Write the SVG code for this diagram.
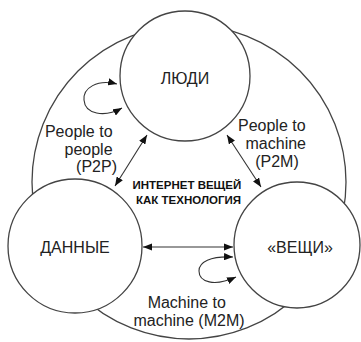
<svg xmlns="http://www.w3.org/2000/svg" width="361" height="342" viewBox="0 0 361 342">
  <style>
    .ring { fill: none; stroke: #444; stroke-width: 1.3; }
    .node { fill: #fff; stroke: #444; stroke-width: 1.3; }
    .title { font-family: "Liberation Sans", Arial, sans-serif; font-size: 16px; fill: #222; text-anchor: middle; }
    .label { font-family: "Liberation Sans", Arial, sans-serif; font-size: 16px; fill: #222; }
    .center { font-family: "Liberation Sans", Arial, sans-serif; font-size: 11.5px; font-weight: bold; fill: #111; text-anchor: middle; }
    .link { fill: none; stroke: #333; stroke-width: 1.1; }
  </style>
  <defs>
    <marker id="head" viewBox="0 0 10 8" refX="10" refY="4" markerWidth="9" markerHeight="7.2" markerUnits="userSpaceOnUse" orient="auto-start-reverse">
      <path d="M0,0 L10,4 L0,8 Z" fill="#111"/>
    </marker>
  </defs>

  <rect width="361" height="342" fill="#fff"/>

  <!-- enclosing ring behind the nodes -->
  <circle class="ring" cx="189" cy="182" r="157"/>

  <g id="people">
    <circle class="node" cx="185" cy="76" r="65"/>
    <text class="title" x="185" y="84">ЛЮДИ</text>
  </g>

  <g id="data">
    <circle class="node" cx="75" cy="246" r="67"/>
    <text class="title" x="75" y="253">ДАННЫЕ</text>
  </g>

  <g id="things">
    <circle class="node" cx="297" cy="245" r="63"/>
    <text class="title" x="300" y="253">«ВЕЩИ»</text>
  </g>

  <g id="connectors">
    <!-- people to people loop -->
    <path class="link" d="M117,84 C97,79 83,88 84,100 C85,114 104,118 122,108" marker-start="url(#head)" marker-end="url(#head)"/>
    <!-- people to data -->
    <line class="link" x1="147" y1="135" x2="115" y2="186" marker-start="url(#head)" marker-end="url(#head)"/>
    <!-- people to things -->
    <line class="link" x1="227" y1="135" x2="261" y2="187" marker-start="url(#head)" marker-end="url(#head)"/>
    <!-- data to things -->
    <line class="link" x1="143" y1="247" x2="233" y2="247" marker-start="url(#head)" marker-end="url(#head)"/>
    <!-- machine to machine loop -->
    <path class="link" d="M233,257 C210,256 199,262 199,271 C199,282 214,287 236,277" marker-start="url(#head)" marker-end="url(#head)"/>
  </g>

  <g id="labels">
    <text class="label" text-anchor="end">
      <tspan x="117" y="137">People to</tspan>
      <tspan x="117" y="155">people</tspan>
      <tspan x="117" y="172">(P2P)</tspan>
    </text>
    <text class="label" text-anchor="middle">
      <tspan x="274" y="131">People to</tspan>
      <tspan x="278" y="149">machine</tspan>
      <tspan x="277" y="167">(P2M)</tspan>
    </text>
    <text class="center">
      <tspan x="188.5" y="189">ИНТЕРНЕТ ВЕЩЕЙ</tspan>
      <tspan x="188.5" y="204">КАК ТЕХНОЛОГИЯ</tspan>
    </text>
    <text class="label" text-anchor="middle">
      <tspan x="189" y="308">Machine to</tspan>
      <tspan x="189" y="326">machine (M2M)</tspan>
    </text>
  </g>
</svg>
